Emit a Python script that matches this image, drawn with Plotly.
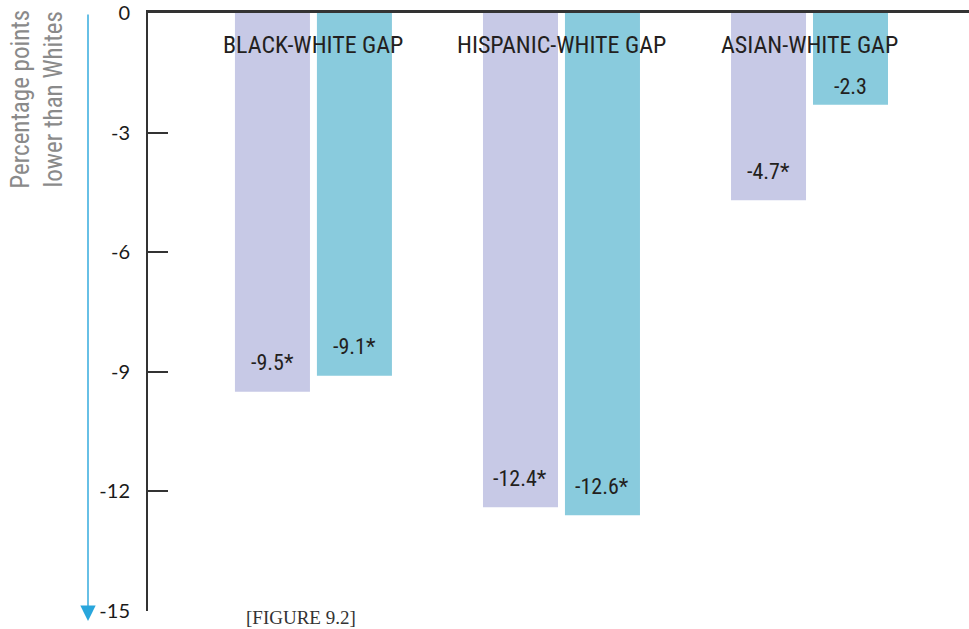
import plotly.graph_objects as go

# Gap categories and the two series of gaps (percentage points vs. Whites)
categories = ["BLACK-WHITE GAP", "HISPANIC-WHITE GAP", "ASIAN-WHITE GAP"]
gap_first = [-9.5, -12.4, -4.7]
gap_second = [-9.1, -12.6, -2.3]
# Statistical significance markers for each bar
signif_first = [True, True, True]
signif_second = [True, True, False]
y_ticks = [0, -3, -6, -9, -12, -15]

LAVENDER = "#c7c9e6"
TEAL = "#89cbdd"
INK = "#231f20"
COND = "Roboto Condensed, sans-serif"

W, H = 969, 629
M_L, M_R, M_T, M_B = 148, 0, 11, 18
PLOT_W = W - M_L - M_R
PX_PER_UNIT = 600 / 15


def fmt(v, star):
    return f"{v:.1f}" + ("*" if star else "")


fig = go.Figure()
for vals, color, name in [(gap_first, LAVENDER, "first"), (gap_second, TEAL, "second")]:
    fig.add_trace(go.Bar(
        x=categories, y=vals, name=name, marker=dict(color=color, line=dict(width=0)),
        hoverinfo="skip", showlegend=False,
    ))

BARGAP = 0.339
# Value labels a little above the bottom end of each bar
n = len(categories)
offset_slot = 0.5 * (1 - BARGAP) / 2  # half of a bar slot in category units
for i, cat in enumerate(categories):
    for vals, sig, sgn in [(gap_first, signif_first, -1), (gap_second, signif_second, 1)]:
        v = vals[i]
        lift = 18 if abs(v) < 3 else 29
        fig.add_annotation(
            x=i + sgn * offset_slot, xref="x", y=v, yref="y",
            text=fmt(v, sig[i]), showarrow=False, yanchor="middle", yshift=lift,
            font=dict(family=COND, size=22, color=INK),
        )
    # Group title near the top of each pair
    fig.add_annotation(
        x=i, xref="x", y=-(43 - M_T) / PX_PER_UNIT, yref="y", text=cat, showarrow=False,
        yanchor="middle", font=dict(family=COND, size=24, color=INK),
    )

# Rotated axis title
fig.add_annotation(
    x=(37 - M_L) / PLOT_W, xref="paper", y=-(98 - M_T) / PX_PER_UNIT, yref="y",
    text="Percentage points<br>lower than Whites", textangle=-90, showarrow=False,
    xanchor="center", yanchor="middle",
    font=dict(family=COND, size=25, color="#8a8a8a"),
)

# Downward arrow alongside the axis
fig.add_annotation(
    x=(88 - M_L) / PLOT_W, xref="paper", y=-(621 - M_T - 600) / 600, yref="paper",
    ax=0, ay=-608, text="", showarrow=True,
    arrowhead=2, arrowsize=2.2, arrowwidth=1.4, arrowcolor="#29a6dc",
)

# Figure caption
fig.add_annotation(
    x=(301 - M_L) / PLOT_W, xref="paper", y=-(615 - M_T - 600) / 600, yref="paper",
    text="[Figure 9.2]", showarrow=False, xanchor="center", yanchor="middle",
    font=dict(family="Liberation Serif, serif", size=27, color="#333333", variant="all-small-caps"),
)

fig.update_layout(
    width=W, height=H,
    margin=dict(l=M_L, r=M_R, t=M_T, b=M_B, pad=0),
    paper_bgcolor="white", plot_bgcolor="white",
    barmode="group", bargap=BARGAP, bargroupgap=0.085,
    xaxis=dict(
        range=[-0.667, n - 1 + 0.643], side="top", showline=True, linecolor="#333333",
        linewidth=2.5, showticklabels=False, ticks="", showgrid=False, zeroline=False,
        fixedrange=True,
    ),
    yaxis=dict(
        range=[-15, 0], tickvals=y_ticks, ticktext=[str(t) for t in y_ticks],
        ticks="inside", ticklen=20, tickwidth=2, tickcolor="#333333",
        showline=True, linecolor="#333333", linewidth=2, showgrid=False, zeroline=False,
        tickfont=dict(family="Lato, sans-serif", size=20, color="#1a1a1a"),
        ticklabelstandoff=12, ticklabeloverflow="allow",
    ),
)

fig.write_html("out.html")
